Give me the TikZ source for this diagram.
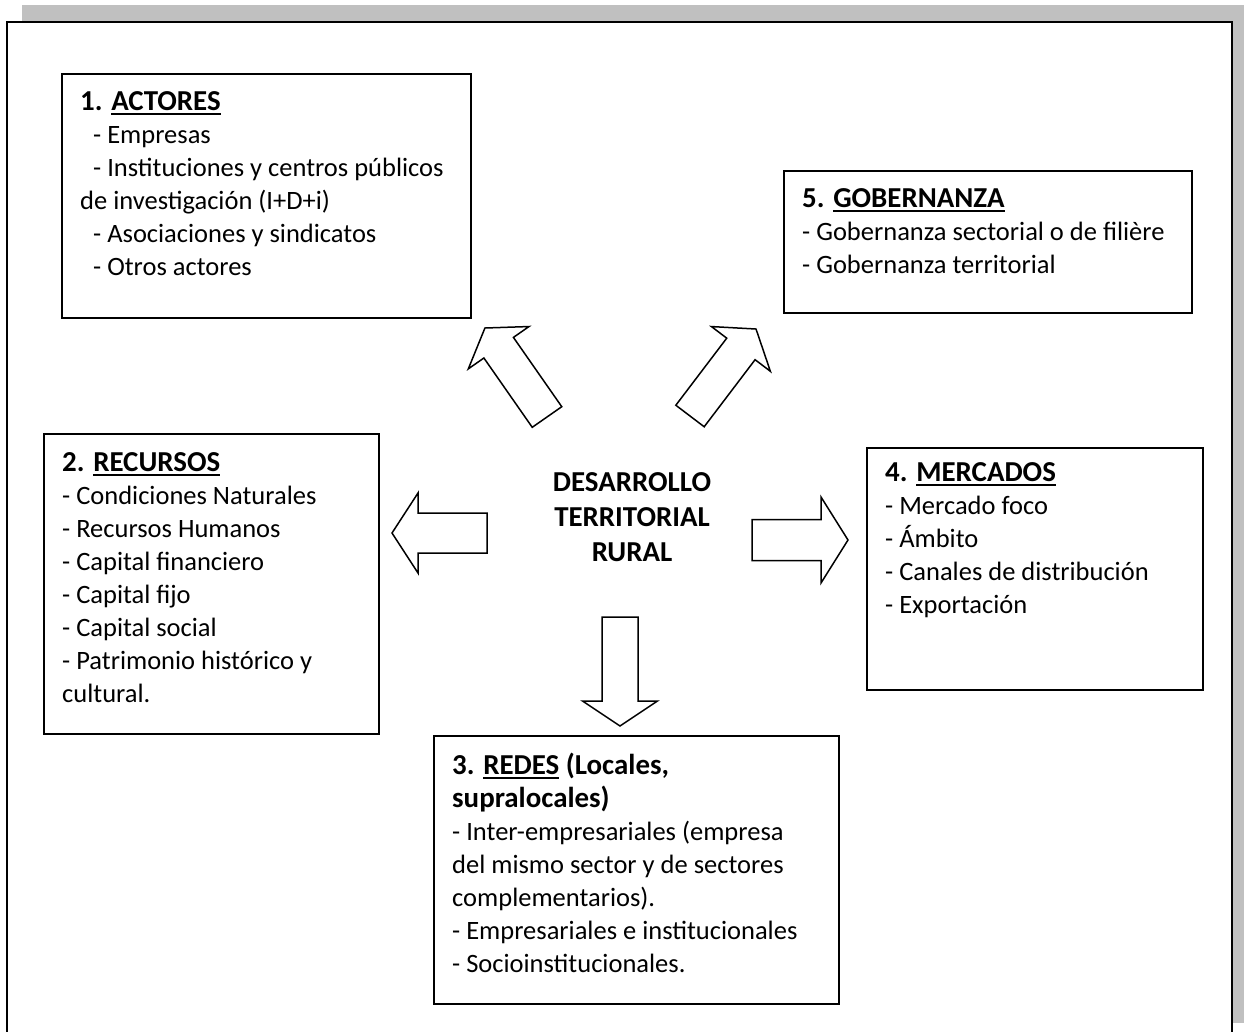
\documentclass[tikz,border=0pt]{standalone}
\usepackage{fontspec}
\setmainfont{Carlito}
\definecolor{shadowgray}{HTML}{C0C0C0}

% underline drawn as a rule just below the baseline
\newsavebox\ulbox
\newcommand\myul[1]{\sbox\ulbox{#1}\rlap{\rule[-4.6pt]{\wd\ulbox}{2pt}}\usebox\ulbox}
% bold heading lines are set a size larger than the body
\newcommand\headfont{\bfseries\fontsize{28.9}{33}\selectfont}
\newcommand\ind{\hspace*{13pt}}

% block arrow: tail point, angle, total length, head length, shaft half width, head half width
\newcommand\blockarrow[6]{%
  \draw[blockarr, shift={#1}, rotate=#2]
    (0,#5) -- ({#3-#4},#5) -- ({#3-#4},#6) -- (#3,0) -- ({#3-#4},-#6)
    -- ({#3-#4},-#5) -- (0,-#5) -- cycle;}

\tikzset{
  box/.style={draw=black, line width=1.6pt, rectangle, inner sep=0pt, anchor=north west},
  % the base anchor of these multi-line nodes sits on the last line
  boxtext/.style={anchor=base west, inner sep=0pt, align=left,
    font=\fontsize{26.5}{33}\selectfont},
  blockarr/.style={draw=black, fill=white, line width=1.5pt, line join=miter},
}

\begin{document}
\begin{tikzpicture}[x=1pt, y=-1pt]
\useasboundingbox (0,0) rectangle (1244,1032);
\clip (0,0) rectangle (1244,1032);

% page frame with its shadow
\fill[shadowgray] (22,5) rectangle (1247,1023);
\draw[fill=white, line width=2.2pt] (7,22) rectangle (1232,1040);

% boxes
\node[box, minimum width=409pt, minimum height=244pt] (actores) at (61,73) {};
\node[box, minimum width=408pt, minimum height=142pt] (gobernanza) at (783,170) {};
\node[box, minimum width=335pt, minimum height=300pt] (recursos) at (43,433) {};
\node[box, minimum width=336pt, minimum height=242pt] (mercados) at (866,447) {};
\node[box, minimum width=405pt, minimum height=268pt] (redes) at (433,735) {};

% box contents (positioned by the baseline of their last line)
\node[boxtext] (actorestxt) at (80,275.7) {%
  {\headfont 1. \myul{ACTORES}}\\
  \ind- Empresas\\
  \ind- Instituciones y centros públicos\\
  de investigación (I+D+i)\\
  \ind- Asociaciones y sindicatos\\
  \ind- Otros actores};

\node[boxtext] (gobernanzatxt) at (802,273.3) {%
  {\headfont 5. \myul{GOBERNANZA}}\\
  - Gobernanza sectorial o de filière\\
  - Gobernanza territorial};

\node[boxtext] (recursostxt) at (62,702.5) {%
  {\headfont 2. \myul{RECURSOS}}\\
  - Condiciones Naturales\\
  - Recursos Humanos\\
  - Capital financiero\\
  - Capital fijo\\
  - Capital social\\
  - Patrimonio histórico y\\
  cultural.};

\node[boxtext] (mercadostxt) at (885,613.5) {%
  {\headfont 4. \myul{MERCADOS}}\\
  - Mercado foco\\
  - Ámbito\\
  - Canales de distribución\\
  - Exportación};

\node[boxtext] (redestxt) at (452,972) {%
  {\headfont 3. \myul{REDES} (Locales,}\\
  {\headfont supralocales)}\\
  - Inter-empresariales (empresa\\
  del mismo sector y de sectores\\
  complementarios).\\
  - Empresariales e institucionales\\
  - Socioinstitucionales.};

% centre label
\node[anchor=base, inner sep=0pt, align=center,
      font=\bfseries\fontsize{28.9}{35}\selectfont] (centro) at (632,561.7)
  {DESARROLLO\\TERRITORIAL\\RURAL};

% block arrows radiating from the centre
\blockarrow{(547,417)}{124.9}{108.5}{24}{18}{37}
\blockarrow{(690,416)}{52.8}{109.2}{25}{17.8}{37}
\blockarrow{(487,533)}{180}{95}{26}{20}{40}
\blockarrow{(752,540)}{0}{96}{27}{20.5}{43}
\blockarrow{(620,617)}{-90}{109}{25}{18}{37.5}

\end{tikzpicture}
\end{document}
